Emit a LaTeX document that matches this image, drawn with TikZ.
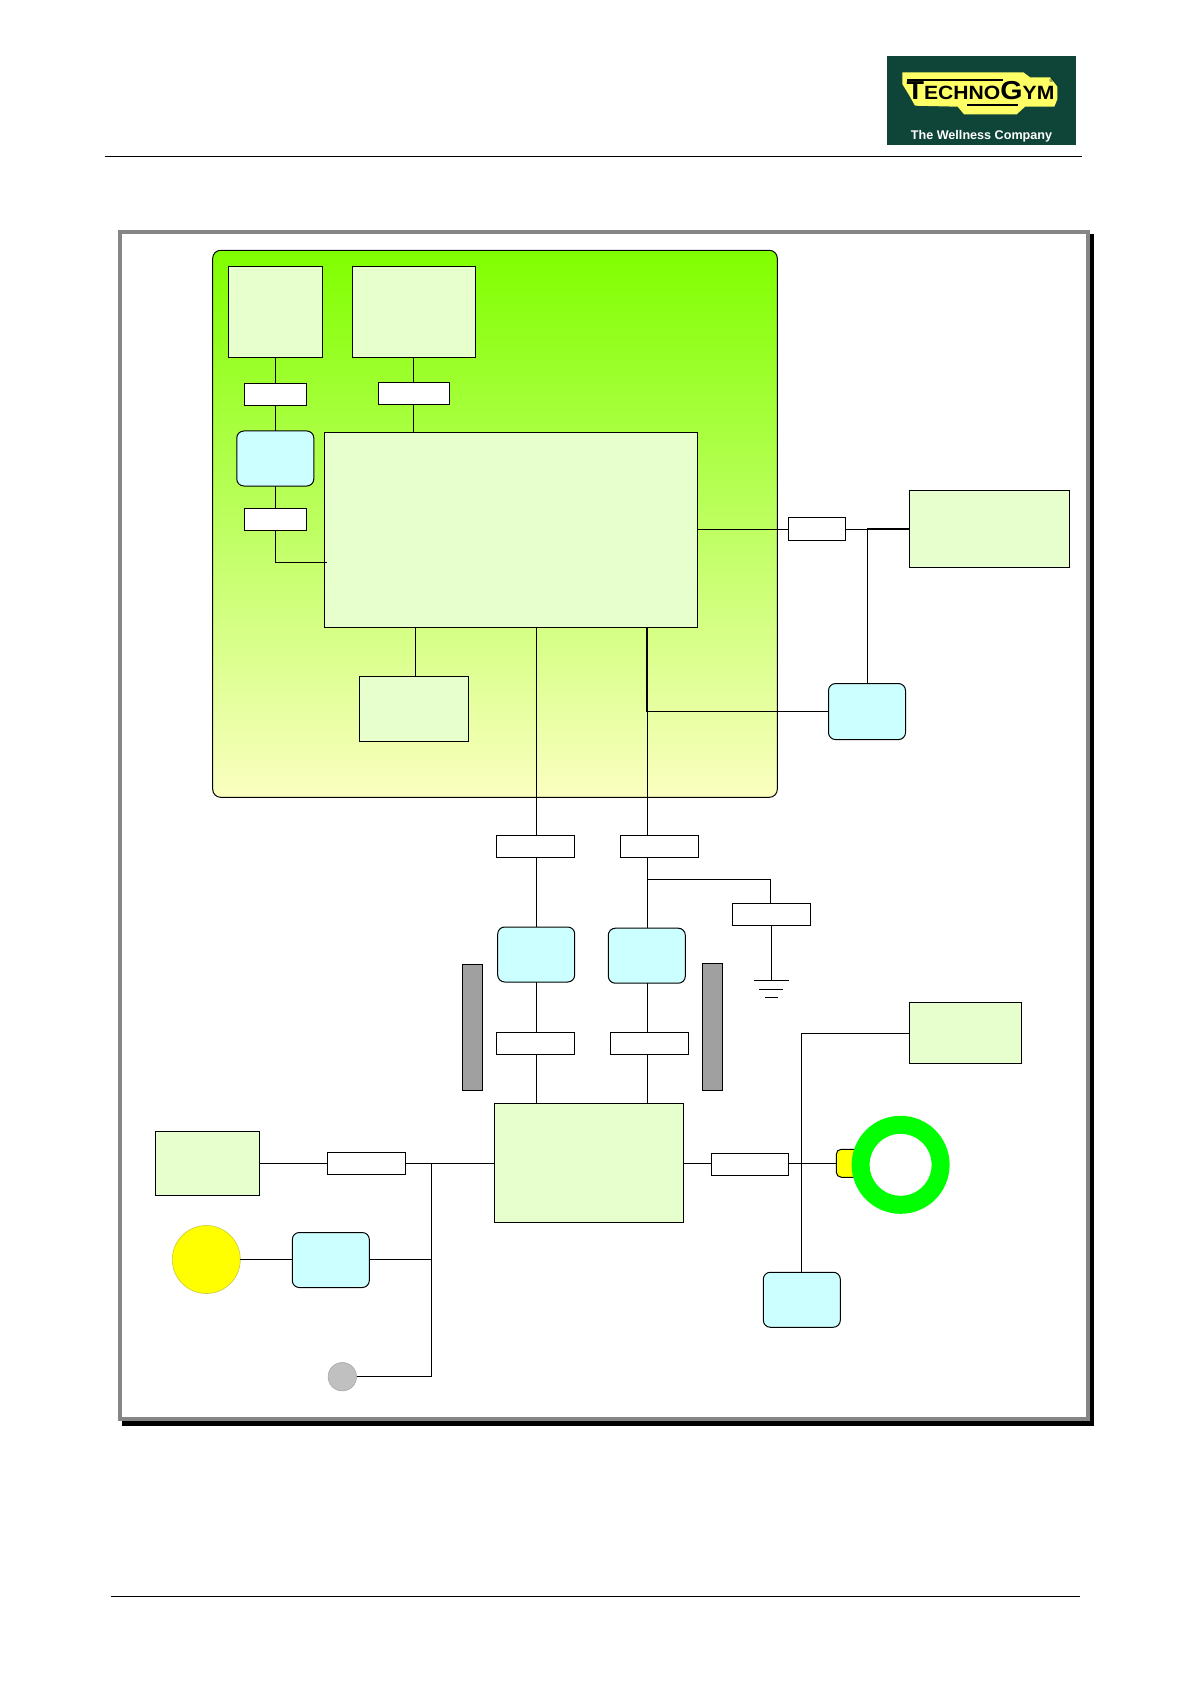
\documentclass[tikz,border=0pt]{standalone}
\usepackage{fontspec}
\usepackage{xcolor}
\usetikzlibrary{positioning,calc}
\newfontfamily\logofont[FakeStretch=1.1]{Liberation Sans}
\newfontfamily\sloganfont{Liberation Sans}
\definecolor{unit}{HTML}{E6FFCC}
\definecolor{driver}{HTML}{CCFFFF}
\definecolor{framegray}{HTML}{868686}
\definecolor{bargray}{HTML}{A0A0A0}
\definecolor{paneltop}{HTML}{80FF00}
\definecolor{panelbot}{HTML}{FBFFC0}
\definecolor{logobg}{HTML}{0F4538}
\definecolor{logoyellow}{HTML}{FFFF66}
\definecolor{lampyellow}{HTML}{FFFF00}
\definecolor{lampedge}{HTML}{C8C840}
\definecolor{ringgreen}{HTML}{00FF00}
\definecolor{dotgray}{HTML}{C0C0C0}
\definecolor{dotedge}{HTML}{A8A8A8}
\tikzset{
  every node/.style={inner sep=0pt, outer sep=0pt},
  unitbox/.style={draw, fill=unit, line width=.5pt},
  tagbox/.style={draw, fill=white, line width=.5pt, minimum height=11pt},
  drvbox/.style={draw, fill=driver, line width=.5pt, rounded corners=3.5pt,
                 minimum width=38.5pt, minimum height=27.5pt},
  barbox/.style={draw, fill=bargray, line width=.5pt, minimum width=10.2pt, minimum height=63.2pt},
  wire/.style={line width=.5pt},
}
\begin{document}
\begin{tikzpicture}[x=.5pt, y=-.5pt]
  \path[fill=white, use as bounding box] (0,0) rectangle (1191,1684);
  \draw[wire] (105,156.3) -- (1081.5,156.3);
  \draw[wire] (110.6,1596) -- (1079.5,1596);

  % logo
  \node[fill=logobg, minimum width=94.5pt, minimum height=44.35pt, anchor=north west] (logo) at (887,56) {};
  \fill[logoyellow] (902.3,72.3) -- (1023.3,72.3) -- (1030,77.3) -- (1050,77.3) -- (1057.3,86.7)
    -- (1057.3,99.3) -- (1054.3,106.7) -- (1025,106.7) -- (1016.7,114.3) -- (964,114.3)
    -- (957.7,106.7) -- (915,105.7) -- (909,95) -- (902.3,84) -- cycle;
  \node[anchor=base, font=\logofont\bfseries\fontsize{9.6}{10}\selectfont] (logoname) at (980.5,99.5)
    {{\fontsize{13}{14}\selectfont T}ECHNO{\fontsize{13}{14}\selectfont G}YM};
  \draw[line width=1pt] (907,80) -- (1003,80);
  \draw[line width=1pt] (967,105.5) -- (1018,105.5);
  \node[font=\sloganfont\fontsize{2.6}{3}\selectfont] (logomark) at (1051.5,80.5) {®};
  \node[text=white, font=\sloganfont\bfseries\fontsize{6.3}{8}\selectfont] (logoslogan) at (981.5,136) {The Wellness Company};

  % frame with its shadow
  \node[fill=black, minimum width=486.15pt, minimum height=596pt, anchor=north west] (frameshadow) at (122,234) {};
  \node[draw=framegray, fill=white, line width=2pt, minimum width=483.65pt, minimum height=593.5pt, anchor=north west] (frame) at (120.2,232.1) {};

  % green panel and what sits in it
  \node[draw, line width=.5pt, top color=paneltop, bottom color=panelbot, rounded corners=4pt,
        minimum width=282.3pt, minimum height=273.5pt, anchor=north west] (panel) at (212.7,250.3) {};
  \node[unitbox, minimum width=47pt, minimum height=45.5pt, anchor=north west] (boxa) at (228.3,266.3) {};
  \node[unitbox, minimum width=61.5pt, minimum height=45.5pt, right=15pt of boxa] (boxb) {};
  \node[tagbox, minimum width=31pt, below=13pt of boxa] (taga) {};
  \node[tagbox, minimum width=35.7pt, below=12.5pt of boxb] (tagb) {};
  \node[drvbox, below=12.85pt of taga] (drva) {};
  \node[tagbox, minimum width=31pt, below=11.15pt of drva] (tagc) {};
  \node[unitbox, minimum width=186.5pt, minimum height=97.4pt, right=5.25pt of drva.north east, anchor=north west, yshift=-.75pt] (main) {};
  \node[unitbox, minimum width=54.6pt, minimum height=32.2pt, below=24.65pt of main.south west, anchor=north west, xshift=17.5pt] (boxd) {};

  % right hand side
  \node[tagbox, minimum width=28.7pt, minimum height=11.65pt, right=45.5pt of main, yshift=.5pt] (tage) {};
  \node[unitbox, minimum width=80.2pt, minimum height=38.5pt, right=31.8pt of tage] (boxe) {};
  \node[drvbox, minimum height=28pt, below=71.5pt of tage, xshift=25pt] (drve) {};

  % middle column
  \node[tagbox, minimum width=39.2pt, below=104pt of main.south west, anchor=north west, xshift=86pt] (tagd) {};
  \node[tagbox, minimum width=39.2pt, right=22.8pt of tagd] (tagf) {};
  \node[tagbox, minimum width=39pt, right=16.8pt of tagf, yshift=-34pt] (tagg) {};
  \node[drvbox, below=34.85pt of tagd, xshift=.35pt] (drvc) {};
  \node[drvbox, right=16.8pt of drvc, yshift=-.6pt] (drvd) {};
  \node[barbox, left=7.5pt of drvc.north west, anchor=north east, yshift=-18.5pt] (bara) {};
  \node[barbox, right=8.55pt of drvd.north east, anchor=north west, yshift=-17.85pt] (barb) {};
  \node[tagbox, minimum width=39.2pt, below=25.15pt of drvc, xshift=-.35pt] (tagh) {};
  \node[tagbox, minimum width=39.2pt, right=17.8pt of tagh] (tagi) {};
  \node[unitbox, minimum width=94.7pt, minimum height=59.65pt, below=24.35pt of tagh.south west, anchor=north west, xshift=-1pt] (big) {};

  % lower right
  \node[tagbox, minimum width=38.7pt, right=13.8pt of big, yshift=-.8pt] (tagj) {};
  \node[draw, fill=lampyellow, line width=.5pt, rounded corners=2.5pt, minimum width=14pt, minimum height=14pt, right=23.8pt of tagj, yshift=.5pt] (tab) {};
  \node[circle, draw=ringgreen, fill=white, line width=9pt, minimum size=40pt] (ring) at (900.6,1164.8) {};
  \node[unitbox, minimum width=56pt, minimum height=30.5pt, right=93.3pt of barb.north east, anchor=north west, yshift=-19.15pt] (boxg) {};
  \node[drvbox, below=48.5pt of tagj, xshift=25.9pt] (drvg) {};

  % lower left
  \node[tagbox, minimum width=39.2pt, left=44.3pt of big, yshift=-.33pt] (tagk) {};
  \node[unitbox, minimum width=52.2pt, minimum height=32pt, left=33.8pt of tagk] (boxf) {};
  \node[circle, draw=lampedge, fill=lampyellow, line width=.3pt, minimum size=34pt, below=15pt of boxf, xshift=-.6pt, yshift=-.1pt] (lamp) {};
  \node[drvbox, right=26pt of lamp, yshift=-.25pt] (drvf) {};
  \node[circle, draw=dotedge, fill=dotgray, line width=.3pt, minimum size=14.2pt, below=37.5pt of drvf, xshift=5.75pt] (dot) {};
  \coordinate[right=13pt of tagk] (tapk);

  \coordinate (tapc) at (326.7,562.3);
  \coordinate (tapd) at ($(boxd.north)+(1.5,0)$);
  \coordinate (tapf) at (647,879.3);
  \coordinate (tapg) at ($(boxg.west)+(0,.5)$);
  \coordinate (tapm) at ($(main.south -| drvd)+(.6,0)$);

  \draw[wire] (boxa) -- (taga); \draw[wire] (taga) -- (drva); \draw[wire] (drva) -- (tagc);
  \draw[wire] (tagc.south) |- (tapc);
  \draw[wire] (boxb) -- (tagb); \draw[wire] (tagb.south) -- (tagb.south |- main.north);
  \draw[wire] (tapd) -- (tapd |- main.south);

  \draw[wire] (main.east) -- (main.east -| tage.west);
  \draw[wire] (main.east -| tage.east) -- (main.east -| boxe.west);
  \draw[wire] (drve) |- (boxe.west);
  \draw[wire] (main.south -| drvd) |- (drve.west);

  \draw[wire] (main.south -| drvc) -- (tagd.north -| drvc);
  \draw[wire] (tagd.south -| drvc) -- (drvc.north);
  \draw[wire] (drvc.south) -- (tagh.north -| drvc);
  \draw[wire] (tagh.south -| drvc) -- (big.north -| drvc);
  \draw[wire] (tapm) -- (tapm |- tagf.north);
  \draw[wire] (tapm |- tagf.south) -- (tapm |- drvd.north);
  \draw[wire] (tapm |- drvd.south) -- (tapm |- tagi.north);
  \draw[wire] (tapm |- tagi.south) -- (tapm |- big.north);
  \draw[wire] (tapf) -| ($(tagg.north)+(-1,0)$);
  \draw[wire] (tagg.south) -- ++(0,55) coordinate (gnd);
  \draw[wire] ($(gnd)+(-17.5,0)$) -- ($(gnd)+(17.5,0)$);
  \draw[wire] ($(gnd)+(-12,9)$) -- ($(gnd)+(12,9)$);
  \draw[wire] ($(gnd)+(-6.5,17)$) -- ($(gnd)+(6.5,17)$);

  \draw[wire] (boxf) -- (tagk); \draw[wire] (tagk) -- (big.west |- tagk);
  \draw[wire] (lamp) -- (lamp -| drvf.west); \draw[wire] (lamp -| drvf.east) -- (lamp -| tapk);
  \draw[wire] (dot) -| (tapk);
  \draw[wire] (big.east |- tab) -- (tagj.west |- tab);
  \draw[wire] (tagj.east |- tab) -- (tab.west);
  \draw[wire] (tapg) -| (drvg.north);
\end{tikzpicture}
\end{document}
